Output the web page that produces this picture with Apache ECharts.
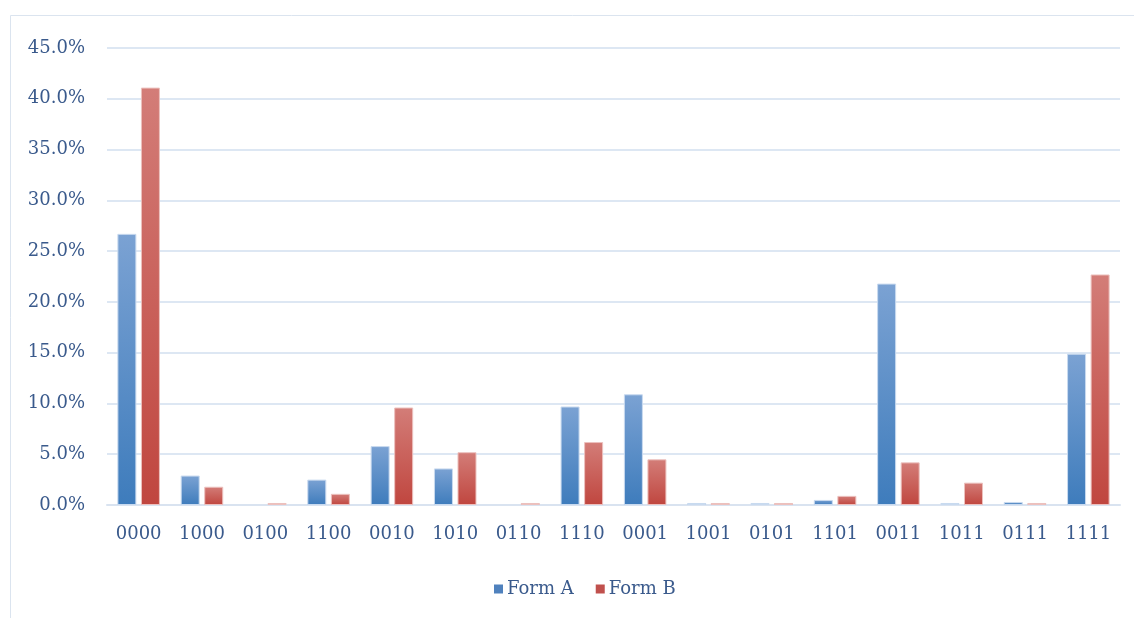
<!DOCTYPE html>
<html>
<head>
<meta charset="utf-8">
<script src="https://cdn.jsdelivr.net/npm/echarts@6/dist/echarts.min.js"></script>
<style>
  html, body { margin: 0; padding: 0; background: #ffffff; }
  #chart { width: 1134px; height: 618px; }
</style>
</head>
<body>
<div id="chart"></div>
<script>
// Response patterns (four binary items) and share of respondents per form
const categories = ['0000', '1000', '0100', '1100', '0010', '1010', '0110', '1110',
                    '0001', '1001', '0101', '1101', '0011', '1011', '0111', '1111'];
const formA = [26.7, 2.9, 0.0, 2.5, 5.8, 3.6, 0.0, 9.7, 10.9, 0.2, 0.2, 0.5, 21.8, 0.2, 0.3, 14.9];
const formB = [41.1, 1.8, 0.2, 1.1, 9.6, 5.2, 0.2, 6.2, 4.5, 0.2, 0.2, 0.9, 4.2, 2.2, 0.2, 22.7];
const yTicks = [0, 5, 10, 15, 20, 25, 30, 35, 40, 45];

const textColor = '#3a5a8c';
const fontFamily = '"DejaVu Serif", "Liberation Serif", serif';

function grad(top, bottom) {
  return new echarts.graphic.LinearGradient(0, 0, 0, 1, [
    { offset: 0, color: top },
    { offset: 1, color: bottom }
  ]);
}

// zero values get no outline so they leave no trace on the baseline
function barData(values, border) {
  return values.map(v => ({
    value: v,
    itemStyle: { borderColor: border, borderWidth: v > 0 ? 1 : 0 }
  }));
}

const chart = echarts.init(document.getElementById('chart'), null, { renderer: 'canvas' });

chart.setOption({
  animation: false,
  backgroundColor: '#ffffff',
  graphic: [{
    type: 'rect',
    shape: { x: 10.5, y: 15.5, width: 1140, height: 620 },
    style: { fill: 'none', stroke: '#dbe4ef', lineWidth: 1 },
    silent: true
  }],
  grid: { left: 107, right: 14, top: 48, bottom: 113 },
  legend: {
    bottom: 15,
    left: 489,
    itemWidth: 9,
    itemHeight: 9,
    itemGap: 22,
    icon: 'rect',
    textStyle: { color: textColor, fontFamily: fontFamily, fontSize: 18, padding: [0, 0, 0, -1] },
    data: [
      { name: 'Form A', itemStyle: { color: '#4f81bd', borderWidth: 0 } },
      { name: 'Form B', itemStyle: { color: '#c0504d', borderWidth: 0 } }
    ]
  },
  xAxis: {
    type: 'category',
    data: categories,
    axisLine: { show: true, lineStyle: { color: '#d9e3f0', width: 2 } },
    axisTick: { show: false },
    axisLabel: { color: textColor, fontFamily: fontFamily, fontSize: 18, margin: 20 }
  },
  yAxis: {
    type: 'value',
    min: yTicks[0],
    max: yTicks[yTicks.length - 1],
    interval: 5,
    axisLine: { show: false },
    axisTick: { show: false },
    splitLine: { lineStyle: { color: '#dde7f3', width: 2 } },
    axisLabel: {
      color: textColor, fontFamily: fontFamily, fontSize: 18, margin: 22,
      formatter: v => v.toFixed(1) + '%'
    }
  },
  series: [
    {
      name: 'Form A',
      type: 'bar',
      data: barData(formA, '#c9daef'),
      barWidth: 19,
      barGap: '24%',
      itemStyle: { color: grad('#7ba2d3', '#3e7cbc') }
    },
    {
      name: 'Form B',
      type: 'bar',
      data: barData(formB, '#ecc1be'),
      barWidth: 19,
      barGap: '24%',
      itemStyle: { color: grad('#d37d78', '#c0463f') }
    }
  ],
  color: ['#4f81bd', '#c0504d']
});
</script>
</body>
</html>
